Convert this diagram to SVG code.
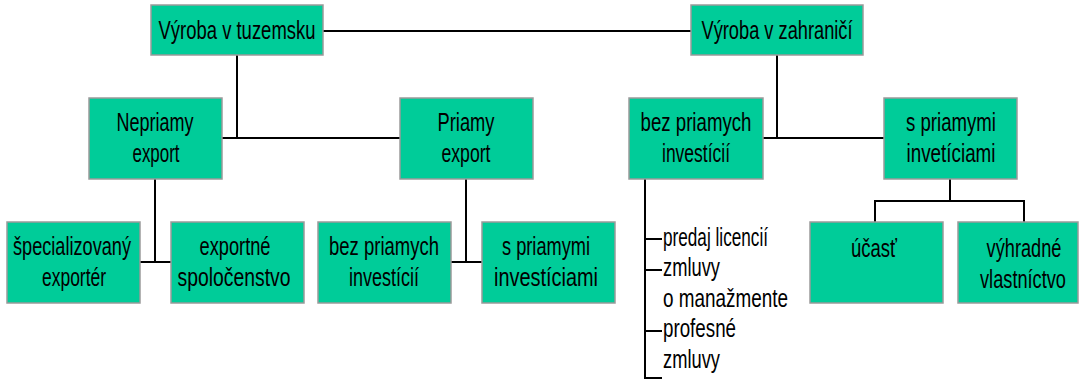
<svg xmlns="http://www.w3.org/2000/svg" width="1080" height="380" viewBox="0 0 1080 380">
<style>
.box{fill:#00CC99;stroke:#9A9A9A;stroke-width:1.5}
.t{font-family:"Liberation Sans",Arial,sans-serif;font-size:26px;fill:#000;text-anchor:middle}
.l{font-family:"Liberation Sans",Arial,sans-serif;font-size:26px;fill:#000;text-anchor:start}
.c{fill:none;stroke:#000;stroke-width:2}
</style>
<rect width="1080" height="380" fill="#fff"/>
<g id="connectors">
<path class="c" d="M323 31H691"/>
<path class="c" d="M237 55V138M222 138H400"/>
<path class="c" d="M777 55V138M763 138H884"/>
<path class="c" d="M155 179V262M140 262H171"/>
<path class="c" d="M466 179V262M451 262H482"/>
<path class="c" d="M645 179V379M644 239H662M644 270H662M644 331H662M644 378H662"/>
<path class="c" d="M950 179V201M875 222V201H1024V222"/>
</g>
<g id="n-tuzemsko">
<rect class="box" x="151" y="5" width="172" height="50"/>
<text class="t" x="237" y="39" textLength="157" lengthAdjust="spacingAndGlyphs">Výroba v tuzemsku</text>
</g>
<g id="n-zahranicie">
<rect class="box" x="691" y="5" width="172" height="50"/>
<text class="t" x="777" y="39" textLength="151" lengthAdjust="spacingAndGlyphs">Výroba v zahraničí</text>
</g>
<g id="n-nepriamy">
<rect class="box" x="89" y="98" width="133" height="81"/>
<text class="t" x="155" y="131" textLength="77" lengthAdjust="spacingAndGlyphs">Nepriamy</text>
<text class="t" x="156" y="162" textLength="47" lengthAdjust="spacingAndGlyphs">export</text>
</g>
<g id="n-priamy">
<rect class="box" x="400" y="98" width="133" height="81"/>
<text class="t" x="466" y="131" textLength="57" lengthAdjust="spacingAndGlyphs">Priamy</text>
<text class="t" x="466" y="162" textLength="49" lengthAdjust="spacingAndGlyphs">export</text>
</g>
<g id="n-bez-zahr">
<rect class="box" x="629" y="98" width="134" height="81"/>
<text class="t" x="696" y="131" textLength="111" lengthAdjust="spacingAndGlyphs">bez priamych</text>
<text class="t" x="696" y="162" textLength="68" lengthAdjust="spacingAndGlyphs">investícií</text>
</g>
<g id="n-s-zahr">
<rect class="box" x="884" y="98" width="133" height="81"/>
<text class="t" x="951" y="131" textLength="90" lengthAdjust="spacingAndGlyphs">s priamymi</text>
<text class="t" x="951" y="162" textLength="89" lengthAdjust="spacingAndGlyphs">invetíciami</text>
</g>
<g id="n-specializovany">
<rect class="box" x="7" y="222" width="133" height="81"/>
<text class="t" x="72" y="255" textLength="118" lengthAdjust="spacingAndGlyphs">špecializovaný</text>
<text class="t" x="74" y="286" textLength="64" lengthAdjust="spacingAndGlyphs">exportér</text>
</g>
<g id="n-exportne">
<rect class="box" x="171" y="222" width="133" height="81"/>
<text class="t" x="235" y="255" textLength="71" lengthAdjust="spacingAndGlyphs">exportné</text>
<text class="t" x="234" y="286" textLength="113" lengthAdjust="spacingAndGlyphs">spoločenstvo</text>
</g>
<g id="n-bez-exp">
<rect class="box" x="318" y="222" width="133" height="81"/>
<text class="t" x="384" y="255" textLength="110" lengthAdjust="spacingAndGlyphs">bez priamych</text>
<text class="t" x="384" y="286" textLength="70" lengthAdjust="spacingAndGlyphs">investícií</text>
</g>
<g id="n-s-exp">
<rect class="box" x="482" y="222" width="133" height="81"/>
<text class="t" x="546" y="255" textLength="88" lengthAdjust="spacingAndGlyphs">s priamymi</text>
<text class="t" x="546" y="286" textLength="104" lengthAdjust="spacingAndGlyphs">investíciami</text>
</g>
<g id="n-zoznam">
<text class="l" x="663" y="246" textLength="105" lengthAdjust="spacingAndGlyphs">predaj licencií</text>
<text class="l" x="663" y="276" textLength="57" lengthAdjust="spacingAndGlyphs">zmluvy</text>
<text class="l" x="663" y="307" textLength="125" lengthAdjust="spacingAndGlyphs">o manažmente</text>
<text class="l" x="663" y="337" textLength="73" lengthAdjust="spacingAndGlyphs">profesné</text>
<text class="l" x="663" y="368" textLength="57" lengthAdjust="spacingAndGlyphs">zmluvy</text>
</g>
<g id="n-ucast">
<rect class="box" x="810" y="222" width="133" height="81"/>
<text class="t" x="874" y="257" textLength="46" lengthAdjust="spacingAndGlyphs">účasť</text>
</g>
<g id="n-vyhradne">
<rect class="box" x="958" y="222" width="120" height="81"/>
<text class="t" transform="translate(1024 257) scale(0.7 1)" x="0" y="0">výhradné</text>
<text class="t" transform="translate(1023 288) scale(0.7 1)" x="0" y="0">vlastníctvo</text>
</g>
</svg>
